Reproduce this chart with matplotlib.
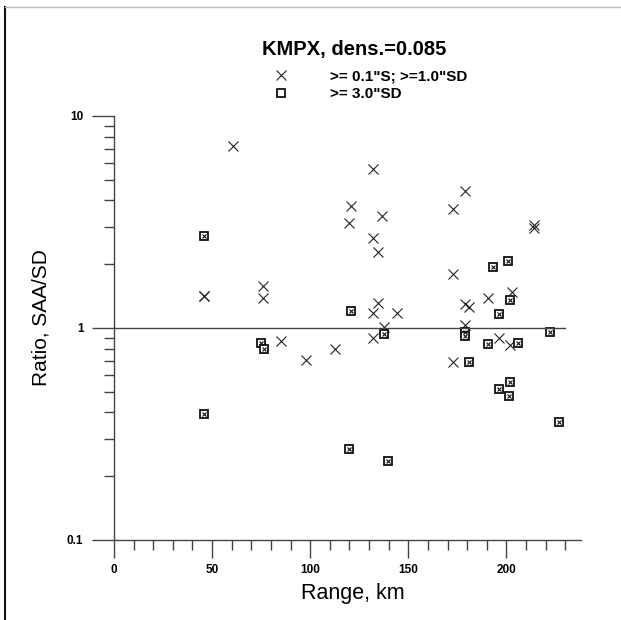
import matplotlib
matplotlib.use('Agg')
import matplotlib.pyplot as plt
from matplotlib.lines import Line2D
from matplotlib.ticker import FixedLocator, NullFormatter

plt.rcParams['font.family'] = ['Liberation Sans', 'DejaVu Sans']

# ">= 0.1\"S; >=1.0\"SD" points (crosses)
cross_x = [60.8, 132, 121, 136.4, 120, 132, 134.7, 76.1, 45.9, 45.9, 76.1, 134.7, 132,
           137.5, 132, 144, 85, 112.8, 97.8, 179, 172.7, 213.9, 213.9, 172.7, 202.7,
           190.7, 178.8, 181, 178.8, 196, 202, 172.7]
cross_y = [7.2, 5.6, 3.76, 3.38, 3.12, 2.65, 2.29, 1.58, 1.41, 1.42, 1.39, 1.31, 1.18,
           1.01, 0.90, 1.18, 0.87, 0.80, 0.706, 4.43, 3.63, 3.05, 2.95, 1.79, 1.48,
           1.39, 1.30, 1.26, 1.03, 0.90, 0.83, 0.69]

# ">= 3.0\"SD" points (boxed crosses)
box_x = [45.9, 121, 45.9, 75, 76.3, 137.5, 120, 139.8, 201, 193.3, 202, 196, 178.8,
         178.8, 222, 190.7, 206, 181, 202, 196, 201.4, 226.7]
box_y = [2.72, 1.20, 0.393, 0.853, 0.796, 0.934, 0.27, 0.237, 2.08, 1.93, 1.36, 1.17,
         0.96, 0.92, 0.96, 0.838, 0.847, 0.69, 0.554, 0.514, 0.478, 0.359]

title = 'KMPX, dens.=0.085'
label_cross = '>= 0.1"S; >=1.0"SD'
label_box = '>= 3.0"SD'

fig = plt.figure(figsize=(6.21, 6.20), dpi=100)
ax = fig.add_axes([114/621, 80/620, 467/621, 424/620])

axcol = '#444444'
ax.plot(cross_x, cross_y, ls='none', marker='x', ms=6.5, mew=0.8, color='#222222')
ax.plot(box_x, box_y, ls='none', marker='s', ms=6, mew=1.3, mfc='white', mec='#111111')
ax.plot(box_x, box_y, ls='none', marker='x', ms=3.5, mew=0.8, color='#111111')

# reference line at ratio 1
ax.plot([0, 230], [1, 1], color=axcol, lw=1)

ax.set_yscale('log')
ax.set_xlim(0, 238)
ax.set_ylim(0.1, 10)

ax.xaxis.set_major_locator(FixedLocator([0, 50, 100, 150, 200]))
ax.xaxis.set_minor_locator(FixedLocator(list(range(0, 231, 10))))
ax.yaxis.set_major_locator(FixedLocator([0.1, 1, 10]))
ax.yaxis.set_minor_locator(FixedLocator([k * d for d in (0.1, 1) for k in range(2, 10)]))
ax.yaxis.set_minor_formatter(NullFormatter())
ax.set_yticklabels(['0.1', '1', '10'])

for s in ('top', 'right'):
    ax.spines[s].set_visible(False)
for s in ('left', 'bottom'):
    ax.spines[s].set_color(axcol)
    ax.spines[s].set_linewidth(1)

ax.tick_params(axis='x', which='major', length=13, width=1, color=axcol, pad=4,
               labelsize=8.5, direction='out')
ax.tick_params(axis='y', which='major', length=16, width=1, color=axcol, pad=6,
               labelsize=8.5, direction='out')
ax.tick_params(which='minor', length=7, width=1, color=axcol, direction='out')
for t in ax.get_xticklabels() + ax.get_yticklabels():
    t.set_fontweight('bold')

ax.set_xlabel('Range, km', fontsize=15.5)
ax.xaxis.set_label_coords(0.512, -0.102)
ax.set_ylabel('Ratio, SAA/SD', fontsize=15)
ax.yaxis.set_label_coords(-0.135, 0.524)

fig.text(354/621, 1 - 50/620, title, fontsize=14.5, fontweight='bold',
         ha='center', va='center')

h1 = Line2D([], [], ls='none', marker='x', ms=6.5, mew=0.8, color='#222222')
h2 = Line2D([], [], ls='none', marker='s', ms=6, mew=1.3, mfc='white', mec='#111111')
ax.legend([h1, h2], [label_cross, label_box], loc='upper left',
          bbox_to_anchor=(258/621, 1 - 62/620), bbox_transform=fig.transFigure,
          frameon=False, borderpad=0, handlelength=2,
          handletextpad=2.2, labelspacing=0.25,
          prop={'size': 11, 'weight': 'bold'})

# page frame lines
fig.add_artist(Line2D([5/621, 5/621], [0, 1 - 7/620], transform=fig.transFigure,
                      color='#111111', lw=1.5))
fig.add_artist(Line2D([5/621, 1], [1 - 7/620, 1 - 7/620], transform=fig.transFigure,
                      color='#bbbbbb', lw=1))

fig.savefig('out.png', dpi=100)
plt.close(fig)
